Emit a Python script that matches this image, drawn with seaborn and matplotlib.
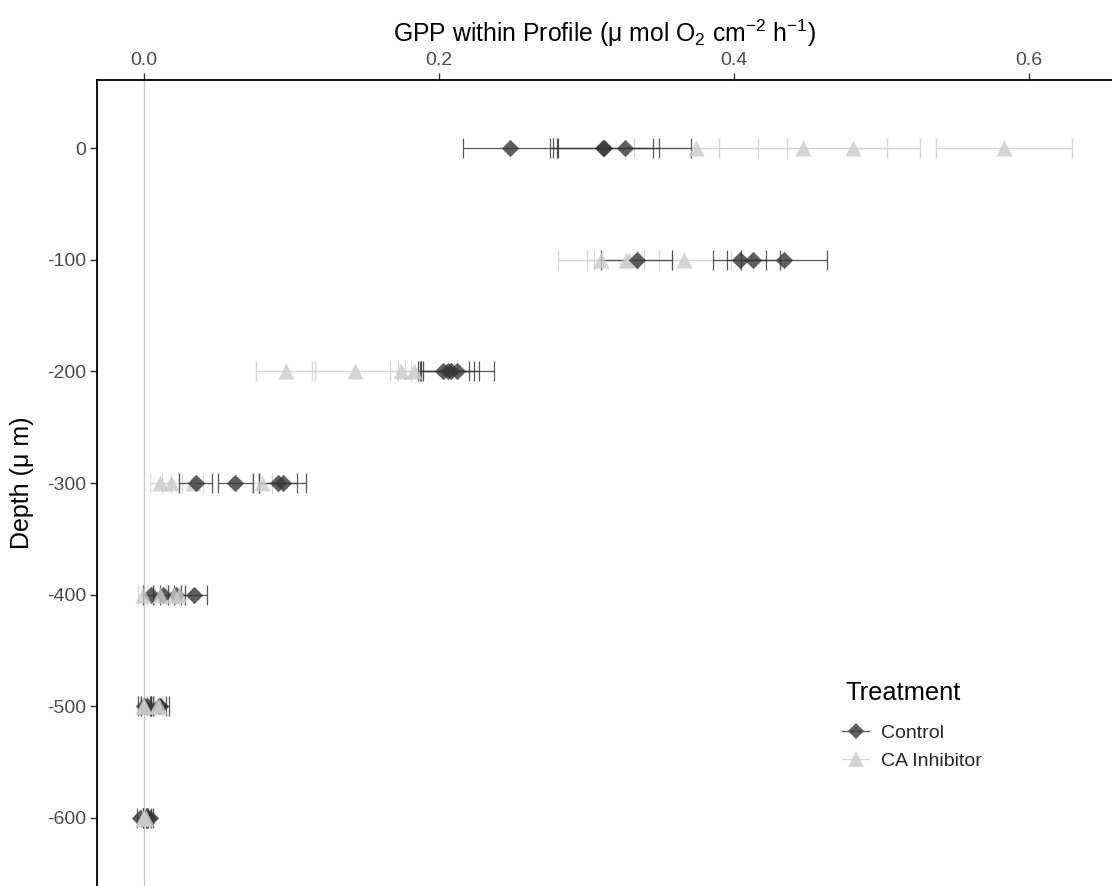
import numpy as np
import pandas as pd
import matplotlib
matplotlib.use("Agg")
import matplotlib.pyplot as plt
from matplotlib.lines import Line2D
import seaborn as sns

# ---------------- data ----------------
depths = [0, -100, -200, -300, -400, -500, -600]

control_gpp = [
    [0.248, 0.311, 0.312, 0.326],
    [0.334, 0.404, 0.413, 0.434],
    [0.203, 0.206, 0.208, 0.212],
    [0.035, 0.062, 0.091, 0.094],
    [0.005, 0.013, 0.022, 0.034],
    [0.000, 0.002, 0.010, 0.011],
    [-0.003, 0.001, 0.003, 0.004],
]
control_err = [
    [0.032, 0.034, 0.037, 0.045],
    [0.024, 0.018, 0.018, 0.029],
    [0.017, 0.018, 0.019, 0.025],
    [0.011, 0.012, 0.013, 0.016],
    [0.006, 0.007, 0.006, 0.009],
    [0.004, 0.004, 0.005, 0.006],
    [0.002, 0.002, 0.002, 0.002],
]
inhib_gpp = [
    [0.374, 0.447, 0.481, 0.583],
    [0.310, 0.327, 0.329, 0.366],
    [0.096, 0.143, 0.174, 0.183],
    [0.011, 0.018, 0.033, 0.080],
    [-0.001, 0.011, 0.020, 0.024],
    [-0.001, 0.000, 0.009, 0.010],
    [-0.001, 0.000, 0.000, 0.001],
]
inhib_err = [
    [0.042, 0.057, 0.045, 0.046],
    [0.029, 0.022, 0.029, 0.032],
    [0.020, 0.029, 0.007, 0.006],
    [0.007, 0.006, 0.007, 0.007],
    [0.003, 0.004, 0.004, 0.004],
    [0.002, 0.002, 0.003, 0.003],
    [0.001, 0.001, 0.001, 0.001],
]
treatments = ["Control", "CA Inhibitor"]
x_ticks = [0.0, 0.2, 0.4, 0.6]
y_ticks = [0, -100, -200, -300, -400, -500, -600]

rows = []
for tr, vals, errs in [("CA Inhibitor", inhib_gpp, inhib_err), ("Control", control_gpp, control_err)]:
    for d, vs, es in zip(depths, vals, errs):
        for v, e in zip(vs, es):
            rows.append({"Treatment": tr, "Depth": d, "GPP": v, "SE": e})
df = pd.DataFrame(rows)

# ---------------- style ----------------
sns.set_style("white")
plt.rcParams["font.family"] = ["Liberation Sans", "DejaVu Sans"]
plt.rcParams["mathtext.default"] = "regular"

W, H = 1112, 886
fig = plt.figure(figsize=(W / 100, H / 100), dpi=100)
ax = fig.add_axes([97 / W, 0, 1 - 97 / W, (H - 80) / H])

pt_color = {"Control": "#363636", "CA Inhibitor": "#cbcbcb"}
eb_color = {"Control": "#3a3a3a", "CA Inhibitor": "#cfcfcf"}
markers = {"Control": "D", "CA Inhibitor": "^"}
sizes = {"Control": 78, "CA Inhibitor": 135}

ax.axvline(0, color="#c8c8c8", lw=1.0, zorder=0)

for tr in ["CA Inhibitor", "Control"]:
    sub = df[df.Treatment == tr]
    ax.errorbar(sub.GPP, sub.Depth, xerr=sub.SE, fmt="none",
                ecolor=eb_color[tr], elinewidth=0.9, capsize=7.5,
                capthick=0.9, alpha=0.85, zorder=2)

# draw order: shallow rows control on top, deep rows inhibitor on top
for tr in treatments:
    for shallow in [True, False]:
        sub = df[(df.Treatment == tr) & ((df.Depth > -350) == shallow)]
        if tr == "Control":
            z = 4 if shallow else 3
        else:
            z = 3 if shallow else 4
        sns.scatterplot(data=sub, x="GPP", y="Depth", color=pt_color[tr],
                        marker=markers[tr], s=sizes[tr], alpha=0.8,
                        linewidth=0, ax=ax, zorder=z, legend=False)

ax.set_xlim(-0.0319, 0.6563)
ax.set_ylim(-660.9, 60.9)
ax.set_xticks(x_ticks)
ax.set_xticklabels([f"{t:.1f}" for t in x_ticks])
ax.set_yticks(y_ticks)
ax.set_yticklabels([str(t) for t in y_ticks])

ax.xaxis.tick_top()
ax.xaxis.set_label_position("top")
ax.tick_params(axis="both", which="both", direction="out", length=5, width=1.0,
               color="#333333", labelsize=14, labelcolor="#4d4d4d", pad=3)
ax.tick_params(axis="x", top=True, bottom=False)
ax.tick_params(axis="y", left=True, right=False)

for side in ["right", "bottom"]:
    ax.spines[side].set_visible(False)
for side in ["top", "left"]:
    ax.spines[side].set_visible(True)
    ax.spines[side].set_color("black")
    ax.spines[side].set_linewidth(1.3)

ax.set_xlabel("GPP within Profile (μ mol O$_2$ cm$^{-2}$ h$^{-1}$)", fontsize=17.8,
              color="black", labelpad=7)
ax.set_ylabel("Depth (μ m)", fontsize=18, color="black", labelpad=9)

handles = [
    Line2D([0], [0], color=eb_color["Control"], lw=1.0, marker="D", markersize=8.5,
           markerfacecolor=pt_color["Control"], markeredgewidth=0, alpha=0.8),
    Line2D([0], [0], color=eb_color["CA Inhibitor"], lw=1.0, marker="^", markersize=11.5,
           markerfacecolor=pt_color["CA Inhibitor"], markeredgewidth=0, alpha=0.8),
]
leg = fig.legend(handles, treatments, loc="center left",
                 bbox_to_anchor=(842 / W, 1 - 747 / H), frameon=False,
                 fontsize=14, handlelength=1.4, borderpad=0,
                 handletextpad=0.62, labelspacing=0.55, borderaxespad=0)
fig.text(845 / W, 1 - 693 / H, "Treatment", fontsize=18.3, color="black",
         ha="left", va="center")

fig.savefig("out.png", dpi=100)
